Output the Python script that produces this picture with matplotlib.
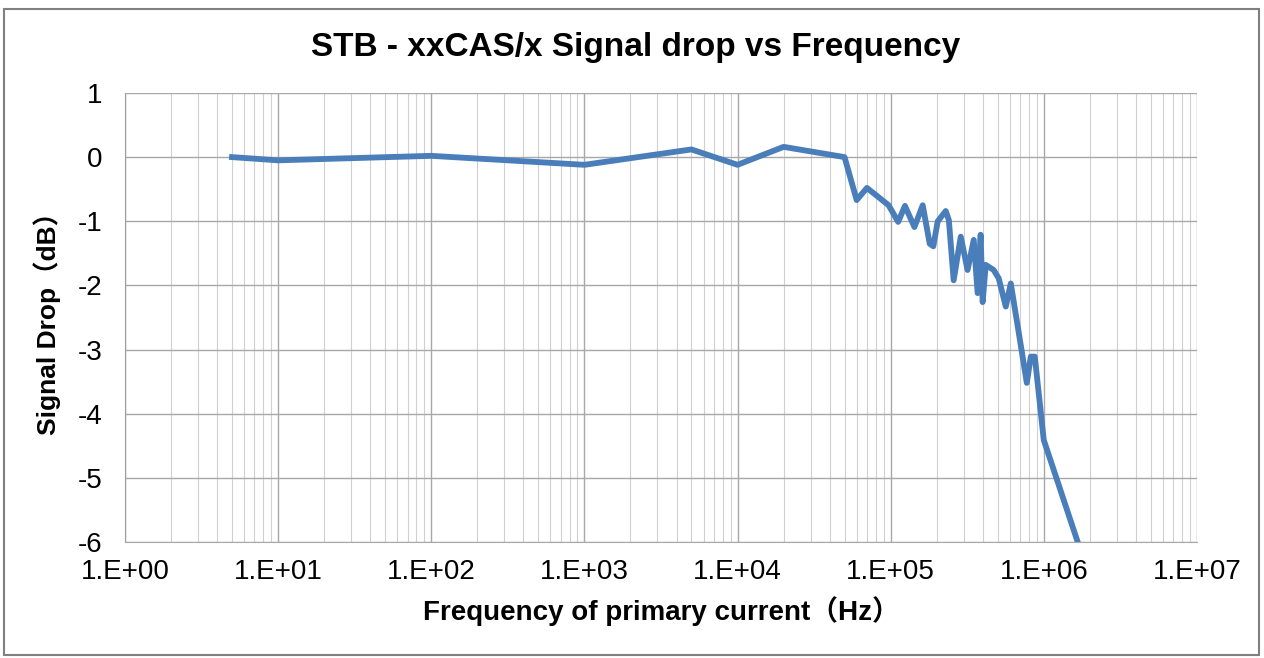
import numpy as np
import matplotlib
matplotlib.use("Agg")
import matplotlib.pyplot as plt
from matplotlib.ticker import FixedLocator, LogLocator, NullFormatter
from matplotlib.patches import Rectangle

plt.rcParams['font.family'] = ['Liberation Sans', 'Noto Sans CJK SC', 'DejaVu Sans']
plt.rcParams['axes.unicode_minus'] = False

# frequency (Hz) and signal drop (dB)
freq = [5, 10, 100, 1000, 5000, 10000, 20000, 50000, 60000, 70000, 85000,
        97000, 112000, 124000, 143000, 162000, 180000, 190000, 203000,
        229000, 240000, 258000, 287000, 318000, 349000, 370000, 387000,
        399000, 418000, 471000, 508000, 565000, 609000, 687000, 775000,
        823000, 874000, 1000000, 2000000]
drop = [0.0, -0.05, 0.02, -0.12, 0.12, -0.12, 0.16, 0.0, -0.67, -0.48, -0.64,
        -0.75, -1.01, -0.76, -1.09, -0.75, -1.35, -1.39, -1.0,
        -0.84, -0.98, -1.92, -1.24, -1.76, -1.29, -2.12, -1.21,
        -2.26, -1.68, -1.76, -1.89, -2.33, -1.97, -2.74, -3.52,
        -3.11, -3.11, -4.41, -6.57]

xticks = [1e0, 1e1, 1e2, 1e3, 1e4, 1e5, 1e6, 1e7]
xlabels = ["1.E+00", "1.E+01", "1.E+02", "1.E+03", "1.E+04", "1.E+05", "1.E+06", "1.E+07"]
yticks = [1, 0, -1, -2, -3, -4, -5, -6]

fig = plt.figure(figsize=(12.64, 6.58), dpi=100)
ax = fig.add_axes([0.0989, 0.1763, 0.848, 0.6824])

ax.plot(freq, drop, color="#4a7ebb", linewidth=4.2, solid_joinstyle="round")

ax.set_xscale("log")
ax.set_xlim(1, 1e7)
ax.set_ylim(-6, 1)
ax.xaxis.set_major_locator(FixedLocator(xticks))
ax.set_xticklabels(xlabels)
ax.xaxis.set_minor_locator(LogLocator(base=10, subs=np.arange(2, 10), numticks=100))
ax.xaxis.set_minor_formatter(NullFormatter())
ax.set_yticks(yticks)
ax.set_yticklabels([str(v) for v in yticks])

ax.grid(True, which="major", color="#a8a8a8", linewidth=1.0)
ax.grid(True, which="minor", axis="x", color="#d0d0d0", linewidth=0.8)
ax.set_axisbelow(True)
ax.tick_params(which="both", length=0, labelsize=20, colors="black")
ax.tick_params(axis="x", pad=12)
ax.tick_params(axis="y", pad=16)
for s in ["top", "right"]:
    ax.spines[s].set_visible(False)
ax.spines["left"].set_color("#a0a0a0")
ax.spines["bottom"].set_color("#a8a8a8")

# title is centred on the whole chart, not on the plot area
fig.text(0.503, 0.928, "STB - xxCAS/x Signal drop vs Frequency", fontsize=24,
         fontweight="bold", ha="center", va="center")
ax.set_xlabel("Frequency of primary current（Hz）", fontsize=20, fontweight="bold", labelpad=8)
ax.set_ylabel("Signal Drop（dB）", fontsize=19, fontweight="bold", labelpad=12)

fig.patches.append(Rectangle((0.003, 0.004), 0.993, 0.982, transform=fig.transFigure,
                             fill=False, edgecolor="#808080", linewidth=1.5))

fig.savefig("out.png", dpi=100)
